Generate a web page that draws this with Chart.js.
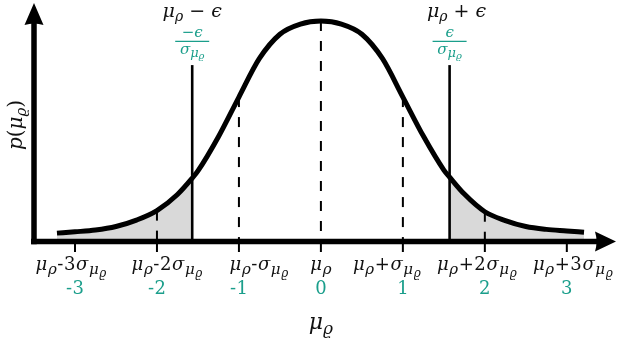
<!DOCTYPE html>
<html><head><meta charset="utf-8">
<script src="https://cdn.jsdelivr.net/npm/chart.js@4/dist/chart.umd.min.js"></script>
<style>html,body{margin:0;padding:0;background:#fff;}canvas{display:block;}</style>
</head><body>
<canvas id="c" width="617" height="338"></canvas>
<script>
// ---- data ----
const curveX = [-3.22, -3, -2.75, -2.5, -2.25, -2, -1.75, -1.57, -1.5, -1.25, -1, -0.75, -0.5, -0.25, 0,
                0.25, 0.5, 0.75, 1, 1.25, 1.5, 1.57, 1.75, 2, 2.25, 2.5, 2.75, 3, 3.21];
const curveY = [0.038, 0.044, 0.052, 0.068, 0.097, 0.14, 0.213, 0.287, 0.32, 0.475, 0.655, 0.83, 0.94, 0.986, 1,
                0.986, 0.94, 0.83, 0.655, 0.478, 0.324, 0.292, 0.215, 0.135, 0.095, 0.068, 0.055, 0.048, 0.042];
const epsilonSigma = 1.57;
const epsilonLineTop = 0.80;
const sigmaTicks = [-3, -2, -1, 0, 1, 2, 3];
const dashedAt = [-2, -1, 0, 1, 2];
const tickNumberLabels = ['-3', '-2', '-1', '0', '1', '2', '3'];
const tickMathLabels = [
  [['μ',0],['ρ',1],['-3',0],['σ',0],['μ',1],['ϱ',2]],
  [['μ',0],['ρ',1],['-2',0],['σ',0],['μ',1],['ϱ',2]],
  [['μ',0],['ρ',1],['-',0],['σ',0],['μ',1],['ϱ',2]],
  [['μ',0],['ρ',1]],
  [['μ',0],['ρ',1],['+',0],['σ',0],['μ',1],['ϱ',2]],
  [['μ',0],['ρ',1],['+2',0],['σ',0],['μ',1],['ϱ',2]],
  [['μ',0],['ρ',1],['+3',0],['σ',0],['μ',1],['ϱ',2]]
];
const epsLeftLabel = [['μ',0],['ρ',1],[' − ',0],['ϵ',0]];
const epsRightLabel = [['μ',0],['ρ',1],[' + ',0],['ϵ',0]];
const fracNumerators = [[['−ϵ',0]], [['ϵ',0]]];
const fracDenominator = [['σ',0],['μ',1],['ϱ',2]];
const yTitle = [['p(',0],['μ',0],['ϱ',1],[')',0]];
const xTitle = [['μ',0],['ϱ',1]];

// ---- layout / style ----
const TEAL = '#1a9e8b';
const FAMILY = "'DejaVu Serif','Liberation Serif',serif";
const labelShift = [-4, 10, 20, 0, -16, -8, 6];

function isItalic(ch) { return /[a-zA-Z\u0370-\u03FF]/.test(ch); }
function layoutRuns(ctx, runs, sizes, gap) {
  const parts = []; let w = 0;
  runs.forEach(([t, lvl]) => {
    for (const ch of t) {
      const font = (isItalic(ch) ? 'italic ' : '') + sizes[lvl] + 'px ' + FAMILY;
      ctx.font = font;
      const cw = ctx.measureText(ch).width;
      if (parts.length) w += gap;
      parts.push({ch, font, lvl, x: w}); w += cw;
    }
  });
  return {parts, w};
}
function drawRuns(ctx, runs, cx, by, sizes, shifts, color, gap) {
  const {parts, w} = layoutRuns(ctx, runs, sizes, gap || 0);
  ctx.fillStyle = color; ctx.textBaseline = 'alphabetic'; ctx.textAlign = 'left';
  const x0 = cx - w / 2;
  parts.forEach(p => { ctx.font = p.font; ctx.fillText(p.ch, x0 + p.x, by + shifts[p.lvl]); });
}

const overlay = {
  id: 'overlay',
  beforeDatasetDraw(chart, args) {
    if (args.index !== 0) return;
    const ctx = chart.ctx, xs = chart.scales.x, ys = chart.scales.y;
    const y0 = ys.getPixelForValue(0);
    ctx.save();
    ctx.strokeStyle = '#000'; ctx.lineWidth = 2; ctx.setLineDash([10, 10]);
    dashedAt.forEach(v => {
      const top = curveY[curveX.indexOf(v)];
      const px = xs.getPixelForValue(v);
      ctx.beginPath(); ctx.moveTo(px, ys.getPixelForValue(top)); ctx.lineTo(px, y0); ctx.stroke();
    });
    ctx.setLineDash([]); ctx.lineWidth = 2.6;
    [-epsilonSigma, epsilonSigma].forEach(v => {
      const px = xs.getPixelForValue(v);
      ctx.beginPath(); ctx.moveTo(px, y0); ctx.lineTo(px, ys.getPixelForValue(epsilonLineTop)); ctx.stroke();
    });
    ctx.restore();
  },
  afterDatasetsDraw(chart) {
    const ctx = chart.ctx, xs = chart.scales.x, ys = chart.scales.y;
    const y0 = ys.getPixelForValue(0);
    const x0 = xs.getPixelForValue(xs.min);
    ctx.save();
    ctx.fillStyle = '#000'; ctx.strokeStyle = '#000';
    ctx.lineWidth = 2;
    sigmaTicks.forEach(v => {
      const px = xs.getPixelForValue(v);
      ctx.beginPath(); ctx.moveTo(px, y0); ctx.lineTo(px, y0 + 10.5); ctx.stroke();
    });
    ctx.lineWidth = 5.5; ctx.lineCap = 'butt';
    ctx.beginPath(); ctx.moveTo(x0 - 3, y0); ctx.lineTo(600, y0); ctx.stroke();
    ctx.beginPath(); ctx.moveTo(x0, y0 + 2.75); ctx.lineTo(x0, 22); ctx.stroke();
    ctx.beginPath(); ctx.moveTo(616, y0); ctx.lineTo(595, y0 - 10); ctx.quadraticCurveTo(598, y0, 595, y0 + 10); ctx.closePath(); ctx.fill();
    ctx.beginPath(); ctx.moveTo(x0, 3); ctx.lineTo(x0 - 9.5, 25); ctx.quadraticCurveTo(x0, 22, x0 + 9.5, 25); ctx.closePath(); ctx.fill();
    ctx.restore();
  },
  afterDraw(chart) {
    const ctx = chart.ctx, xs = chart.scales.x;
    ctx.save();
    sigmaTicks.forEach((v, i) => {
      const px = xs.getPixelForValue(v);
      drawRuns(ctx, tickMathLabels[i], px + labelShift[i], 270, [18, 15, 12], [0, 4, 7], '#111', 0.6);
      drawRuns(ctx, [[tickNumberLabels[i], 0]], px, 294, [18], [0], TEAL, 0.5);
    });
    const pl = xs.getPixelForValue(-epsilonSigma), pr = xs.getPixelForValue(epsilonSigma);
    drawRuns(ctx, epsLeftLabel, pl, 17, [19, 14, 11], [0, 4, 7], '#111', 0);
    drawRuns(ctx, epsRightLabel, pr + 7, 17, [19, 14, 11], [0, 4, 7], '#111', 0);
    [pl, pr].forEach((p, i) => {
      drawRuns(ctx, fracNumerators[i], p, 36.5, [15], [0], TEAL, 0);
      ctx.strokeStyle = TEAL; ctx.lineWidth = 1.2;
      ctx.beginPath(); ctx.moveTo(p - 17, 41.3); ctx.lineTo(p + 17, 41.3); ctx.stroke();
      drawRuns(ctx, fracDenominator, p, 54, [15, 13, 10], [0, 3, 5], TEAL, 0);
    });
    drawRuns(ctx, xTitle, xs.getPixelForValue(0), 329, [22, 17], [0, 5], '#111', 0);
    ctx.save();
    ctx.translate(22, 125); ctx.rotate(-Math.PI / 2);
    drawRuns(ctx, yTitle, 0, 0, [20, 15], [0, 4], '#111', 0);
    ctx.restore();
    ctx.restore();
  }
};

const pts = curveX.map((x, i) => ({x, y: curveY[i]}));
const leftTail = pts.filter(p => p.x <= -epsilonSigma);
const rightTail = pts.filter(p => p.x >= epsilonSigma);

new Chart(document.getElementById('c'), {
  type: 'line',
  data: {
    datasets: [
      {data: pts, borderColor: '#000', borderWidth: 5, pointRadius: 0, fill: false, cubicInterpolationMode: 'monotone', clip: false},
      {data: leftTail, borderWidth: 0, borderColor: 'rgba(0,0,0,0)', backgroundColor: '#d9d9d9', pointRadius: 0, fill: 'origin', cubicInterpolationMode: 'monotone'},
      {data: rightTail, borderWidth: 0, borderColor: 'rgba(0,0,0,0)', backgroundColor: '#d9d9d9', pointRadius: 0, fill: 'origin', cubicInterpolationMode: 'monotone'}
    ]
  },
  options: {
    responsive: false, animation: false, devicePixelRatio: 1,
    layout: {padding: {left: 34, right: 1, top: 3, bottom: 96.5}},
    plugins: {legend: {display: false}, tooltip: {enabled: false}},
    scales: {
      x: {type: 'linear', min: -3.5, max: 3.6, display: false},
      y: {type: 'linear', min: 0, max: 1.0816, display: false}
    }
  },
  plugins: [overlay]
});
</script>
</body></html>
